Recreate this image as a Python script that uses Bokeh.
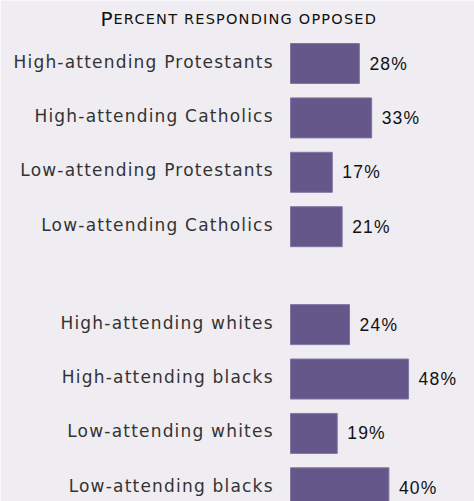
from bokeh.plotting import figure
from bokeh.models import ColumnDataSource, Range1d, Label, InlineStyleSheet
from bokeh.core.properties import value
from bokeh.embed import file_html
from bokeh.resources import INLINE

categories = [
    "High-attending Protestants",
    "High-attending Catholics",
    "Low-attending Protestants",
    "Low-attending Catholics",
    "High-attending whites",
    "High-attending blacks",
    "Low-attending whites",
    "Low-attending blacks",
]
values = [28, 33, 17, 21, 24, 48, 19, 40]
groups = [0, 0, 0, 0, 1, 1, 1, 1]
title_text = "Percent responding opposed"

BG = "#efedf2"
BAR = "#655789"
TRACKING = 1.2  # px of letter spacing (CSS)

gap = 0.8
ypos = [i + gap * g for i, g in enumerate(groups)]
labels = [f"{v}%" for v in values]
# right-aligned text is placed by its unspaced width; compensate for tracking
cat_offsets = [-18 - TRACKING * (len(c) - 1) for c in categories]

src = ColumnDataSource(dict(y=ypos, v=values, cat=categories, lab=labels,
                            xo=cat_offsets))

W, H = 474, 501
px_per_unit = 2.46
x0_px = 290
slot_px = 54.4
first_center_px = 63

x_range = Range1d(-x0_px / px_per_unit, (W - x0_px) / px_per_unit)
y_range = Range1d((H - first_center_px) / slot_px, -first_center_px / slot_px)

p = figure(width=W, height=H, x_range=x_range, y_range=y_range,
           output_backend="svg", toolbar_location=None, min_border=0)
p.axis.visible = False
p.grid.visible = False
p.outline_line_color = None
p.background_fill_color = BG
p.border_fill_color = BG
p.stylesheets = [InlineStyleSheet(css=":host { letter-spacing: %spx; }" % TRACKING)]

p.hbar(y="y", right="v", left=0, height=40 / slot_px, source=src,
       fill_color=BAR, line_color="#8176a3", line_width=1)

p.text(x=0, y="y", text="cat", source=src, x_offset="xo", y_offset=-2,
       text_align="right", text_baseline="middle",
       text_font=value("DejaVu Sans"), text_font_size="17px",
       text_color="#333333")

p.text(x="v", y="y", text="lab", source=src, x_offset=10, y_offset=0,
       text_align="left", text_baseline="middle",
       text_font=value("Liberation Sans"), text_font_size="17.5px",
       text_color="#111111")

first = title_text[0].upper()
rest = title_text[1:].upper()
p.add_layout(Label(x=100, y=H - 18, x_units="screen", y_units="screen",
                   text=first, text_font="DejaVu Sans", text_font_size="20px",
                   text_color="#111111", text_align="left",
                   text_baseline="alphabetic"))
p.add_layout(Label(x=113, y=H - 18, x_units="screen", y_units="screen",
                   text=rest, text_font="DejaVu Sans", text_font_size="14.5px",
                   text_color="#111111", text_align="left",
                   text_baseline="alphabetic"))

open("out.html", "w").write(file_html(p, INLINE))
